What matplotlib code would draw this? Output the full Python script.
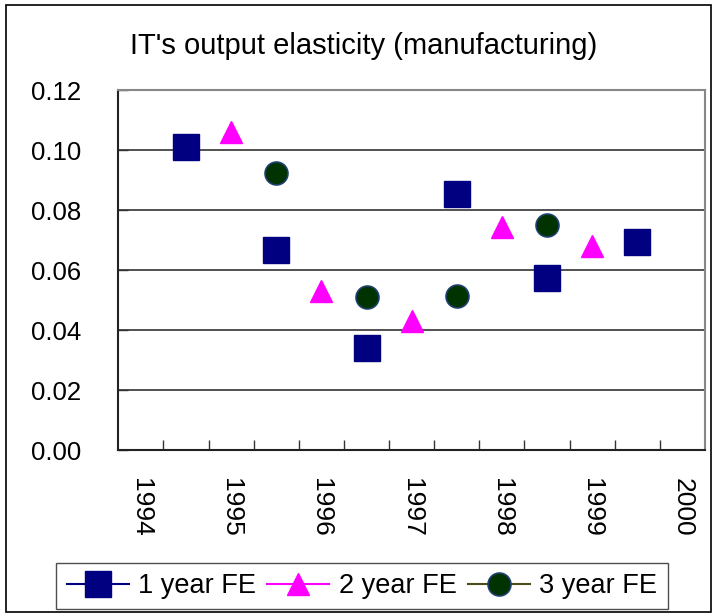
import numpy as np
import matplotlib.pyplot as plt
from matplotlib.patches import Rectangle

plt.rcParams['font.family'] = ['Liberation Sans', 'DejaVu Sans']

# categories (Excel-style: one blank slot between years)
categories = ['1994', '', '1995', '', '1996', '', '1997', '', '1998', '', '1999', '', '2000']
nan = np.nan
fe1 = [nan, 0.101, nan, 0.0668, nan, 0.0342, nan, 0.0855, nan, 0.0574, nan, 0.0695, nan]
fe2 = [nan, nan, 0.106, nan, 0.0532, nan, 0.0432, nan, 0.0745, nan, 0.0679, nan, nan]
fe3 = [nan, nan, nan, 0.0923, nan, 0.0509, nan, 0.0515, nan, 0.0749, nan, nan, nan]
series_names = ['1 year FE', '2 year FE', '3 year FE']
yticks = [0.00, 0.02, 0.04, 0.06, 0.08, 0.10, 0.12]

x = np.arange(len(categories))

fig = plt.figure(figsize=(7.16, 6.14), dpi=100)
ax = fig.add_axes([118.3 / 716, 1 - 450.3 / 614, (705 - 118.3) / 716, (450.3 - 90) / 614])

# gaps between points mean no connecting segments are drawn, but legend keeps the line
ax.plot(x, fe1, color='#000080', lw=1.5, marker='s', ms=18.5,
        mfc='#000080', mec='#000080', label=series_names[0], zorder=3)
ax.plot(x, fe2, color='#FF00FF', lw=1.5, marker='^', ms=16,
        mfc='#FF00FF', mec='#FF00FF', label=series_names[1], zorder=3)
ax.plot(x, fe3, color='#4d4d1a', lw=1.5, marker='o', ms=16.5,
        mfc='#003300', mec='#1f3f6f', mew=1.2, label=series_names[2], zorder=3)

ax.set_xlim(-0.5, len(categories) - 0.5)
ax.set_ylim(0, 0.12)
ax.set_yticks(yticks)
ax.set_yticklabels(['%.2f' % v for v in yticks])
ax.yaxis.grid(True, color='#333333', lw=1.2)
ax.set_axisbelow(True)

# labels at even categories, tick marks on category boundaries
ax.set_xticks(x[::2])
ax.set_xticklabels(categories[::2], rotation=270)
ax.set_xticks(np.arange(0.5, len(categories) - 1, 1.0), minor=True)
ax.tick_params(axis='x', which='major', length=0, pad=20, labelsize=19)
ax.tick_params(axis='x', which='minor', direction='in', length=7, width=1, color='#333333')
ax.tick_params(axis='y', direction='in', length=7, width=1, pad=27, labelsize=18.5,
               color='#333333')

for s in ['left', 'bottom']:
    ax.spines[s].set_color('#222222')
    ax.spines[s].set_linewidth(1.5)
for s in ['top', 'right']:
    ax.spines[s].set_color('#888888')
    ax.spines[s].set_linewidth(1.5)

fig.text(0.508, 1 - 54 / 614, "IT's output elasticity (manufacturing)",
         ha='center', va='baseline', fontsize=21)

leg = fig.legend(loc='center', bbox_to_anchor=(362 / 716, 1 - 586 / 614), ncol=3,
                 fontsize=19.5, handlelength=2.3, handletextpad=0.35, columnspacing=0.4,
                 borderpad=0.38, frameon=True, fancybox=False, edgecolor='#222222',
                 borderaxespad=0)
leg.get_frame().set_linewidth(1.0)

# outer chart border
fig.patches.append(Rectangle((6 / 716, 2 / 614), 705 / 716, 607 / 614,
                             transform=fig.transFigure, fill=False,
                             edgecolor='black', lw=1.2))

fig.savefig('out.png', dpi=100)
